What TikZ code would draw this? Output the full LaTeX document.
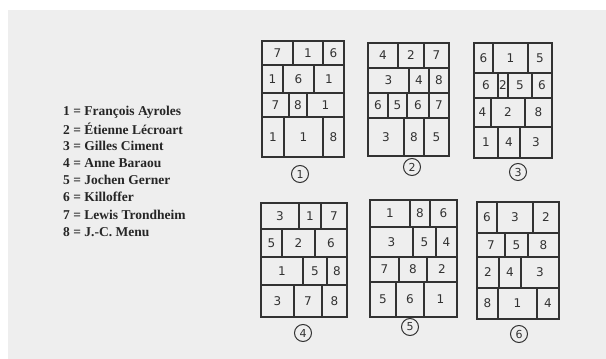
\documentclass[tikz,border=0pt]{standalone}
\usepackage{fontspec}
\setmainfont{Liberation Serif}
\newfontfamily\handfont{DejaVu Sans}
\usetikzlibrary{positioning}

\definecolor{paper}{RGB}{238,238,238}
\definecolor{pencil}{RGB}{50,50,50}

\tikzset{
	tile/.style={draw=pencil, line width=1.2pt},
	digit/.style={text=pencil, font=\handfont\fontsize{12}{12}\selectfont, inner sep=0pt},
	circled/.style={draw=pencil, circle, line width=1pt, minimum size=17pt, inner sep=0pt,
		text=pencil, font=\handfont\fontsize{11}{11}\selectfont},
	legend/.style={anchor=west, inner sep=0pt, font=\bfseries\fontsize{13.5}{14}\selectfont, text=black!85}
}

% one row of a tiling: name, top, bottom, cells xa/xb/digit
\newcommand{\tilerow}[4]{%
	\foreach \xa/\xb/\d [count=\k] in {#4} {
		\draw[tile] (\xa,#2) rectangle (\xb,#3);
		\node[digit] (#1-\k) at ({(\xa+\xb)/2},{(#2+#3)/2}) {\d};
	}}

\begin{document}
\begin{tikzpicture}[x=1pt,y=-1pt]
	
	\fill[white] (0,0) rectangle (606,359);
	\fill[paper] (8,10) rectangle (606,359);
	\useasboundingbox (0,0) rectangle (606,359);
	
	% legend
	\foreach \name/\ypos [count=\n] in {
		Fran\c{c}ois Ayroles/112,
		\'Etienne L\'ecroart/129,
		Gilles Ciment/146,
		Anne Baraou/163,
		Jochen Gerner/180,
		Killoffer/197,
		Lewis Trondheim/215,
		J.-C. Menu/232}
	{
		\node[legend] (leg\n) at (63,\ypos) {\n{} = \name};
	}
	
	% tiling 1
	\tilerow{ga1}{41}{65}{262/293/7, 293/323/1, 323/344/6}
	\tilerow{gb1}{65}{93}{262/283/1, 283/314/6, 314/344/1}
	\tilerow{gc1}{93}{117}{262/289/7, 289/307/8, 307/344/1}
	\tilerow{gd1}{117}{157}{262/284/1, 284/323/1, 323/344/8}
	\node[circled] (lab1) at (300,174) {1};
	
	% tiling 2
	\tilerow{ga2}{43}{68}{368/398/4, 398/424/2, 424/449/7}
	\tilerow{gb2}{68}{93}{368/409/3, 409/429/4, 429/449/8}
	\tilerow{gc2}{93}{118}{368/388/6, 388/407/5, 407/429/6, 429/449/7}
	\tilerow{gd2}{118}{156}{368/404/3, 404/424/8, 424/449/5}
	\node[circled] (lab2) at (412,167) {2};
	
	% tiling 3
	\tilerow{ga3}{43}{73}{474/493/6, 493/528/1, 528/552/5}
	\tilerow{gb3}{73}{98}{474/498/6, 498/508/2, 508/532/5, 532/552/6}
	\tilerow{gc3}{98}{127}{474/491/4, 491/525/2, 525/552/8}
	\tilerow{gd3}{127}{158}{474/498/1, 498/520/4, 520/552/3}
	\node[circled] (lab3) at (518,172) {3};
	
	% tiling 4
	\tilerow{ga4}{203}{229}{261/299/3, 299/321/1, 321/347/7}
	\tilerow{gb4}{229}{257}{261/282/5, 282/315/2, 315/347/6}
	\tilerow{gc4}{257}{285}{261/303/1, 303/327/5, 327/347/8}
	\tilerow{gd4}{285}{317}{261/294/3, 294/322/7, 322/347/8}
	\node[circled] (lab4) at (303,333) {4};
	
	% tiling 5
	\tilerow{ga5}{200}{227}{370/410/1, 410/430/8, 430/457/6}
	\tilerow{gb5}{227}{257}{370/413/3, 413/436/5, 436/457/4}
	\tilerow{gc5}{257}{282}{370/399/7, 399/427/8, 427/457/2}
	\tilerow{gd5}{282}{317}{370/396/5, 396/424/6, 424/457/1}
	\node[circled] (lab5) at (410,327) {5};
	
	% tiling 6
	\tilerow{ga6}{202}{233}{477/497/6, 497/533/3, 533/559/2}
	\tilerow{gb6}{233}{257}{477/505/7, 505/528/5, 528/559/8}
	\tilerow{gc6}{257}{288}{477/499/2, 499/521/4, 521/559/3}
	\tilerow{gd6}{288}{319}{477/498/8, 498/537/1, 537/559/4}
	\node[circled] (lab6) at (519,334) {6};
	
\end{tikzpicture}
\end{document}
